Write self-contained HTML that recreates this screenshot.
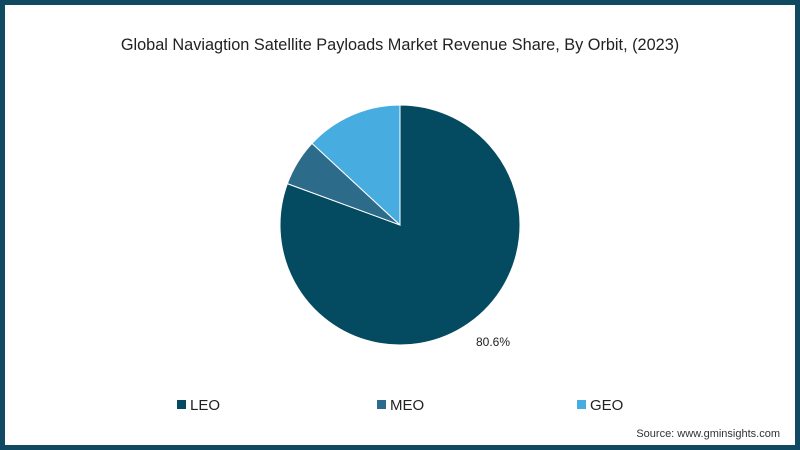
<!DOCTYPE html>
<html><head><meta charset="utf-8"><style>
body{margin:0;width:800px;height:450px;overflow:hidden;font-family:"Liberation Sans",sans-serif}
#frame{position:absolute;left:0;top:0;width:790px;height:440px;border:5px solid #0f4a62;background:#fff}
</style></head><body>
<div id="frame"></div>
<svg width="800" height="450" style="position:absolute;left:0;top:0">
<text x="400" y="50" text-anchor="middle" font-size="16.3" fill="#222">Global Naviagtion Satellite Payloads Market Revenue Share, By Orbit, (2023)</text>
<g id="slices"></g>
<g id="legend"></g>
<text x="780" y="437" text-anchor="end" font-size="11" fill="#333">Source: www.gminsights.com</text>
</svg>
<script>
const categories=["LEO","MEO","GEO"];
const values=[80.6,6.3,13.1];
const labels=["80.6%","",""];
const colors=["#044b61","#2d6b8a","#47ace0"];
const cx=400,cy=225,r=120,ns="http://www.w3.org/2000/svg";
const total=values.reduce((a,b)=>a+b,0);
const g=document.getElementById('slices');
let a0=0;
values.forEach((v,i)=>{
 const a1=a0+v/total*2*Math.PI;
 const p=(a)=>[cx+r*Math.sin(a),cy-r*Math.cos(a)];
 const [x0,y0]=p(a0),[x1,y1]=p(a1);
 const path=document.createElementNS(ns,'path');
 path.setAttribute('d',`M${cx},${cy}L${x0},${y0}A${r},${r} 0 ${a1-a0>Math.PI?1:0} 1 ${x1},${y1}Z`);
 path.setAttribute('fill',colors[i]);path.setAttribute('stroke','#fff');path.setAttribute('stroke-width','1');
 
 
 g.appendChild(path);
 if(labels[i]){
  const am=(a0+a1)/2;
  const t=document.createElementNS(ns,'text');
  t.setAttribute('x',cx+(r+32)*Math.sin(am)+6);t.setAttribute('y',cy-(r+12)*Math.cos(am)+13);
  t.setAttribute('font-size','12');t.setAttribute('fill','#222');t.setAttribute('text-anchor','middle');
  
  
  t.textContent=labels[i];g.appendChild(t);
 }
 a0=a1;
});
const lg=document.getElementById('legend');
const lx=[177,377,577];
categories.forEach((c,i)=>{
 const e=document.createElementNS(ns,'g');
 
 
 e.innerHTML=`<rect x="${lx[i]}" y="400" width="9" height="9" fill="${colors[i]}"/><text x="${lx[i]+13}" y="410" font-size="15" fill="#222">${c}</text>`;
 lg.appendChild(e);
});
</script>
</body></html>
